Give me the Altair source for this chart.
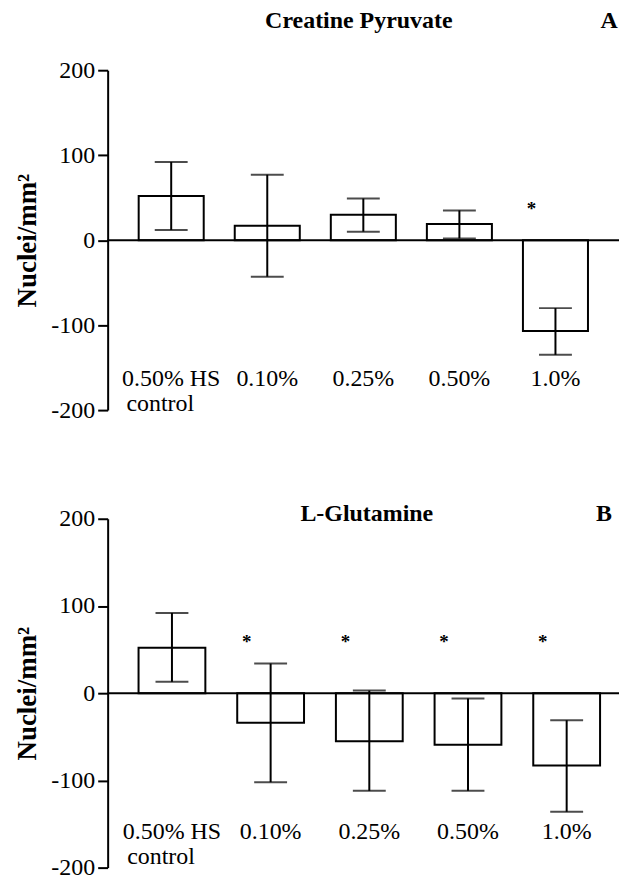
import altair as alt
import pandas as pd

categories = ["0.50% HS", "0.10%", "0.25%", "0.50%", "1.0%"]
second_line = ["control", "", "", "", ""]

# Panel A: Creatine Pyruvate
a_mean = [52, 17, 30, 19, -107]
a_hi = [92, 77, 49, 35, -80]
a_lo = [12, -43, 10, 2, -135]
a_star = ["", "", "", "", "*"]

# Panel B: L-Glutamine
b_mean = [52, -34, -55, -59, -83]
b_hi = [92, 34, 3, -6, -31]
b_lo = [13, -102, -112, -112, -136]
b_star = ["", "*", "*", "*", "*"]

y_ticks = [-200, -100, 0, 100, 200]

SERIF = "Liberation Serif, Times New Roman, serif"


def panel(title, letter, mean, hi, lo, star, height, xscale,
          title_pos, label_y, star_y, letter_pos):
    df = pd.DataFrame({
        "cat": categories,
        "line2": second_line,
        "mean": mean,
        "hi": hi,
        "lo": lo,
        "star": star,
    })
    x = alt.X("cat:N", sort=categories, scale=xscale, axis=None)
    y_axis = alt.Axis(
        values=y_ticks, grid=False, title="Nuclei/mm²",
        labelExpr="'' + datum.value",
        domainColor="black", domainWidth=2,
        tickColor="black", tickWidth=2, tickSize=10,
        labelFont=SERIF, labelFontSize=24, labelColor="black", labelPadding=3,
        titleFont=SERIF, titleFontSize=27, titleFontWeight="bold",
        titleColor="black", titlePadding=9,
    )
    y = alt.Y("mean:Q", scale=alt.Scale(domain=[-200, 200], nice=False),
              axis=y_axis)
    base = alt.Chart(df)
    bars = base.mark_bar(fill="white", stroke="black", strokeWidth=2).encode(
        x=x, y=y)
    zero = alt.Chart(pd.DataFrame({"z": [0]})).mark_rule(
        color="black", strokeWidth=2).encode(y=alt.Y("z:Q"))
    err = base.mark_rule(color="black", strokeWidth=2).encode(
        x=x, y=alt.Y("lo:Q"), y2="hi:Q")
    cap_hi = base.mark_tick(color="black", thickness=2, size=33).encode(
        x=x, y=alt.Y("hi:Q"))
    cap_lo = base.mark_tick(color="black", thickness=2, size=33).encode(
        x=x, y=alt.Y("lo:Q"))
    stars = base.mark_text(font=SERIF, fontSize=19, fontWeight="bold",
                           color="black", dx=-24, dy=3,
                           baseline="middle").encode(
        x=x, y=alt.datum(star_y), text="star:N")
    labels = base.mark_text(font=SERIF, fontSize=24, color="black",
                            baseline="middle", align="center").encode(
        x=x, y=alt.datum(label_y), text="cat:N")
    labels2 = base.mark_text(font=SERIF, fontSize=24, color="black",
                             baseline="middle", align="center", dx=-11,
                             dy=25).encode(
        x=x, y=alt.datum(label_y), text="line2:N")
    heads = alt.Chart(pd.DataFrame({"t": [title, letter],
                                    "px": [title_pos[0], letter_pos[0]],
                                    })).mark_text(
        font=SERIF, fontSize=24, fontWeight="bold", color="black",
        baseline="middle", align="center", y=title_pos[1]).encode(
        x=alt.X("px:Q", scale=None), text="t:N")
    return alt.layer(bars, zero, err, cap_hi, cap_lo, stars, labels, labels2,
                     heads).properties(width=513, height=height)


top = panel("Creatine Pyruvate", "A", a_mean, a_hi, a_lo, a_star, 341,
            alt.Scale(paddingInner=0.323, paddingOuter=0.323),
            (252, -49), -163, 40, (503, -49))
bottom = panel("L-Glutamine", "B", b_mean, b_hi, b_lo, b_star, 350,
               alt.Scale(paddingInner=0.323, paddingOuter=0.2525, align=0.62),
               (260, -5), -159, 62, (498, -5))

chart = alt.vconcat(top, bottom, spacing=80).properties(
    padding={"left": 14, "top": 8, "right": 0, "bottom": 0},
    autosize=alt.AutoSizeParams(type="pad"),
    background="white",
).configure_view(stroke=None)

chart.save("out.html", embed_options={"renderer": "svg", "actions": False})
